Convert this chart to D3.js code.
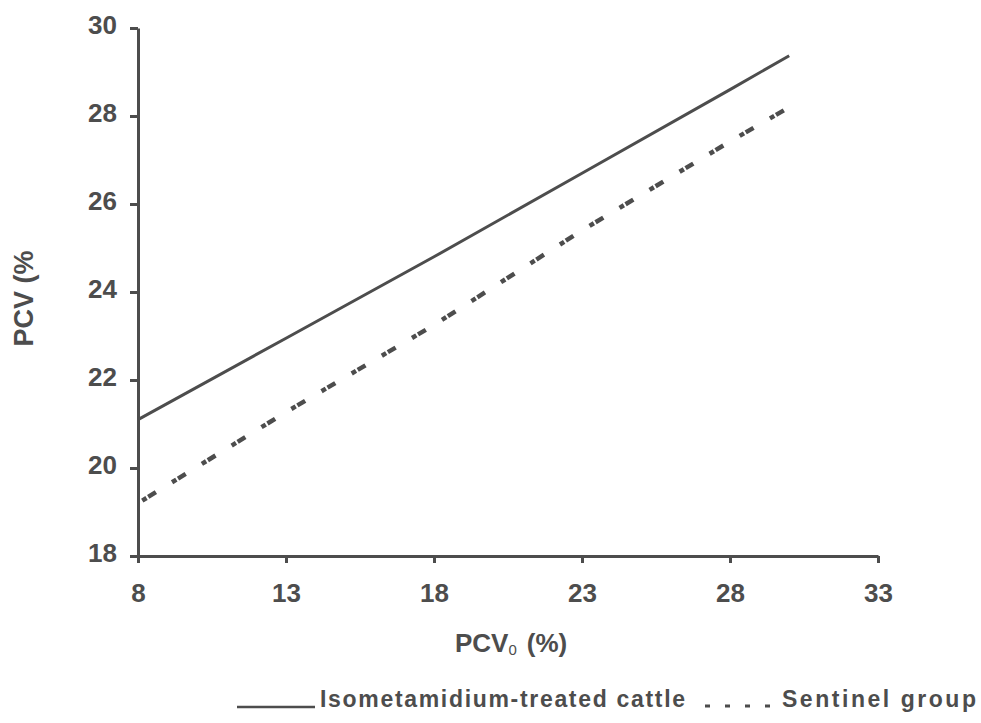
<!DOCTYPE html>
<html>
<head>
<meta charset="utf-8">
<script src="https://cdn.jsdelivr.net/npm/d3@7"></script>
<style>
  body { margin: 0; background: #fff; }
  text { font-family: "Liberation Sans", Arial, sans-serif; font-weight: bold; fill: #4d4d4d; }
</style>
</head>
<body>
<script>
// values
const pcv0 = [8, 13, 18, 23, 28, 30];
const treated = [21.1, 22.95, 24.8, 26.7, 28.6, 29.37];
const sentinel = [19.2, 21.27, 23.25, 25.4, 27.42, 28.2];
const xTicks = [8, 13, 18, 23, 28, 33];
const yTicks = [18, 20, 22, 24, 26, 28, 30];
const seriesNames = ["Isometamidium-treated cattle", "Sentinel group"];

const width = 981;
const height = 723;
const ink = "#4d4d4d";

const svg = d3
  .select("body")
  .append("svg")
  .attr("width", width)
  .attr("height", height);

const x = d3.scaleLinear().domain([8, 33]).range([138, 878]);
const y = d3.scaleLinear().domain([18, 30]).range([556, 28]);

// x axis
const gx = svg
  .append("g")
  .attr("transform", `translate(0,${y(18)})`)
  .call(d3.axisBottom(x).tickValues(xTicks).tickSize(7).tickSizeOuter(0));
gx.select(".domain").attr("stroke", ink).attr("stroke-width", 3);
gx.selectAll(".tick line").attr("stroke", ink).attr("stroke-width", 3);
gx.selectAll(".tick text")
  .attr("y", 46)
  .attr("dy", 0)
  .attr("font-size", 26)
  .attr("fill", ink);

// y axis
const gy = svg
  .append("g")
  .attr("transform", `translate(${x(8)},0)`)
  .call(d3.axisLeft(y).tickValues(yTicks).tickSize(8).tickSizeOuter(0));
gy.select(".domain").attr("stroke", ink).attr("stroke-width", 3);
gy.selectAll(".tick line").attr("stroke", ink).attr("stroke-width", 3);
gy.selectAll(".tick text")
  .attr("x", -21)
  .attr("y", -4)
  .attr("dy", "0.35em")
  .attr("font-size", 26)
  .attr("fill", ink);

// axis titles
svg
  .append("text")
  .attr("transform", `translate(33,${(245 + 352) / 2}) rotate(-90)`)
  .attr("text-anchor", "middle")
  .attr("font-size", 27)
  .text("PCV (%");

const xt = svg
  .append("text")
  .attr("x", 455)
  .attr("y", 652)
  .attr("font-size", 26);
xt.append("tspan").text("PCV");
xt.append("tspan").attr("font-size", 15).attr("font-weight", "normal").attr("dy", 3).text("0");
xt.append("tspan").attr("dy", -3).attr("dx", 10).text("(%)");

// lines
const line = d3
  .line()
  .x((d) => x(d[0]))
  .y((d) => y(d[1]));

svg
  .append("path")
  .datum(pcv0.map((v, i) => [v, treated[i]]))
  .attr("fill", "none")
  .attr("stroke", ink)
  .attr("stroke-width", 3)
  .attr("d", line);

svg
  .append("path")
  .datum(pcv0.map((v, i) => [v, sentinel[i]]))
  .attr("fill", "none")
  .attr("stroke", ink)
  .attr("stroke-width", 4.5)
  .attr("stroke-dasharray", "5,2,9,19")
  .attr("stroke-dashoffset", 30)
  .attr("d", line);

// legend
const ly = 707;
svg
  .append("line")
  .attr("x1", 237)
  .attr("x2", 315)
  .attr("y1", ly)
  .attr("y2", ly)
  .attr("stroke", ink)
  .attr("stroke-width", 2.5);
svg
  .append("text")
  .attr("x", 320)
  .attr("y", ly)
  .attr("font-size", 23)
  .attr("textLength", 365)
  .attr("lengthAdjust", "spacing")
  .text(seriesNames[0]);

svg
  .append("line")
  .attr("x1", 705)
  .attr("x2", 778)
  .attr("y1", ly - 1)
  .attr("y2", ly - 1)
  .attr("stroke", ink)
  .attr("stroke-width", 3)
  .attr("stroke-dasharray", "5,15");
svg
  .append("text")
  .attr("x", 782)
  .attr("y", ly)
  .attr("font-size", 23)
  .attr("textLength", 194)
  .attr("lengthAdjust", "spacing")
  .text(seriesNames[1]);
</script>
</body>
</html>
